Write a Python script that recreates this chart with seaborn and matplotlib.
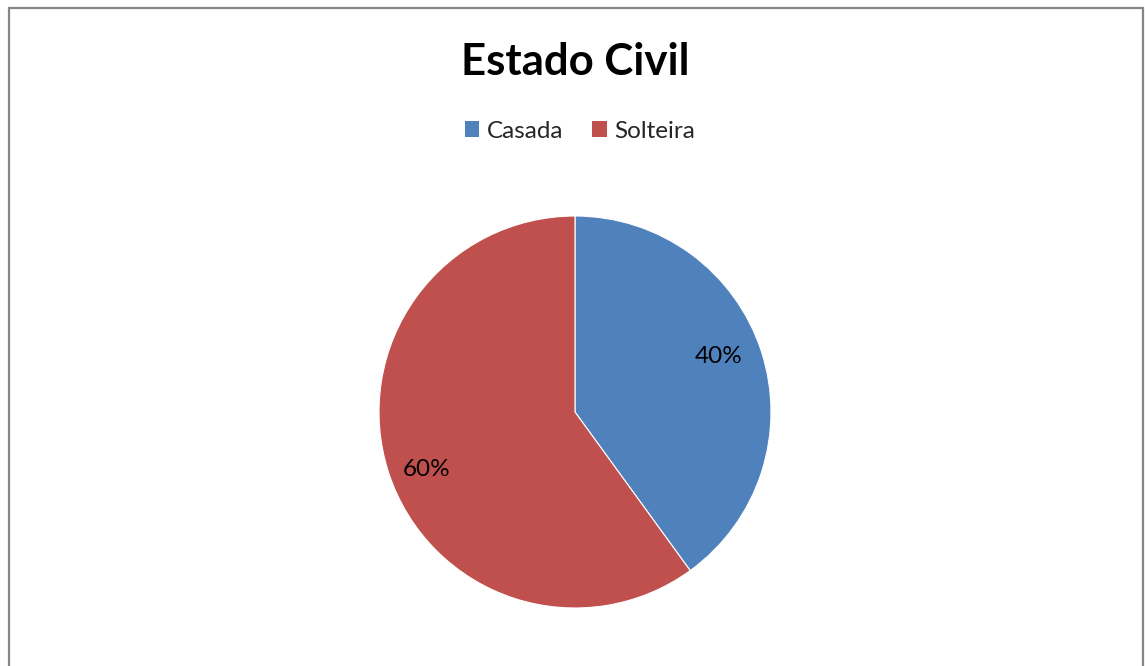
import matplotlib
matplotlib.use("Agg")
import matplotlib.pyplot as plt
from matplotlib.lines import Line2D
from matplotlib.patches import Patch
import seaborn as sns

categories = ["Casada", "Solteira"]
values = [40, 60]
colors = ["#4F81BD", "#C0504D"]
title = "Estado Civil"

sns.set_theme(style="white")
plt.rcParams["font.family"] = ["Lato", "DejaVu Sans"]

W, H = 1145, 666
fig = plt.figure(figsize=(W / 100, H / 100), dpi=100)
fig.patch.set_facecolor("white")

# pie area: centre (575, 412) px, radius 196 px
cx, cy, r = 575, 412, 196
ax = fig.add_axes([(cx - r) / W, (H - cy - r) / H, 2 * r / W, 2 * r / H])
wedges, texts, autotexts = ax.pie(
    values,
    colors=colors,
    startangle=90,
    counterclock=False,
    autopct="%1.0f%%",
    pctdistance=0.79,
    radius=1.0,
    wedgeprops=dict(linewidth=0.8, edgecolor="white"),
    textprops=dict(fontsize=17.5, color="black"),
)
# best-fit label placement inside each slice
label_pos = [(0.735, 0.281), (-0.755, -0.291)]
for t, p in zip(autotexts, label_pos):
    t.set_position(p)
ax.set_xlim(-1, 1)
ax.set_ylim(-1, 1)
ax.set_aspect("equal")
ax.axis("off")

fig.text(cx / W, 1 - 62 / H, title, ha="center", va="center",
         fontsize=31.5, fontweight="bold", color="black")

handles = [Patch(facecolor=c, edgecolor="none") for c in colors]
fig.legend(handles, categories, loc="center", bbox_to_anchor=(580 / W, 1 - 131 / H),
           ncol=2, frameon=False, fontsize=17.5, handlelength=0.6, handleheight=0.6,
           handletextpad=0.3, columnspacing=1.2)

# chart-area border
border = dict(color="#868686", linewidth=1.6, transform=fig.transFigure)
fig.add_artist(Line2D([8.5 / W, 8.5 / W], [0, 1 - 7.5 / H], **border))
fig.add_artist(Line2D([8.5 / W, 1142.5 / W], [1 - 7.5 / H, 1 - 7.5 / H], **border))
fig.add_artist(Line2D([1142.5 / W, 1142.5 / W], [0, 1 - 7.5 / H], **border))

fig.savefig("out.png", dpi=100, facecolor="white")
